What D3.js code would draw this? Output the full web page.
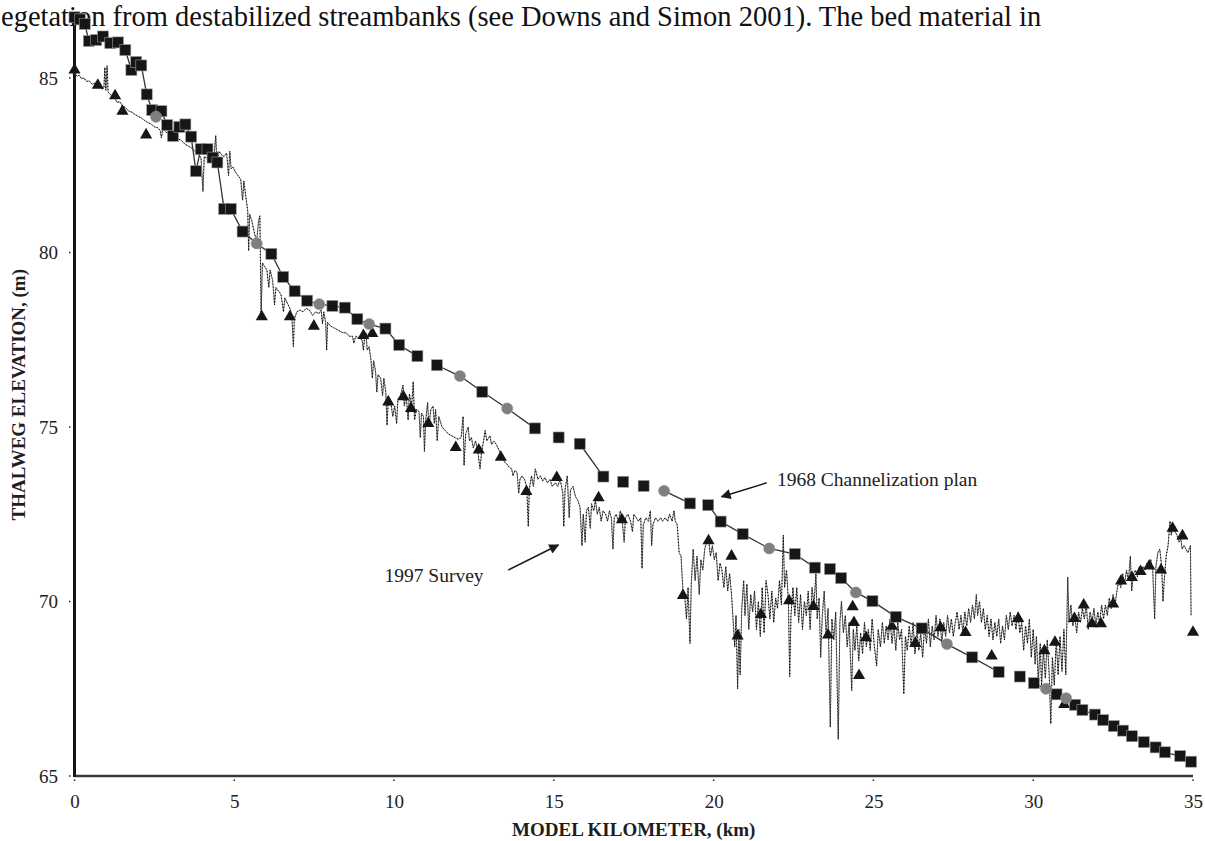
<!DOCTYPE html>
<html>
<head>
<meta charset="utf-8">
<script src="https://cdn.jsdelivr.net/npm/d3@7"></script>
<style>
  html, body { margin: 0; padding: 0; background: #fff; }
  svg { display: block; font-family: "Liberation Serif", "Times New Roman", serif; }
  .tick-label text { font-size: 19px; fill: #222; }
  .axis-title { font-size: 19px; font-weight: bold; fill: #1e1e1e; }
  .note { font-size: 19.5px; fill: #222; }
  .page-text { font-size: 28.5px; fill: #111; }
</style>
</head>
<body>
<svg id="chart" width="1205" height="841"></svg>
<script>
const X_TICKS = [0, 5, 10, 15, 20, 25, 30, 35];
const Y_TICKS = [65, 70, 75, 80, 85];

// 1968 channelization plan, black squares (km, m)
const planKm = [0.00, 0.17, 0.32, 0.45, 0.68, 0.89, 1.12, 1.36, 1.59, 1.78, 1.93, 2.09, 2.26, 2.43, 2.72, 2.90,
  3.08, 3.28, 3.47, 3.65, 3.80, 3.95, 4.16, 4.32, 4.47, 4.68, 4.89, 5.26, 6.16, 6.53, 6.89, 7.28, 8.07, 8.46,
  8.85, 9.73, 10.16, 10.73, 11.34, 12.76, 14.41, 15.15, 15.81, 16.55, 17.17, 17.81, 19.26, 19.83, 20.22, 20.91,
  22.54, 23.17, 23.64, 23.99, 24.97, 25.70, 26.51, 28.09, 28.92, 29.58, 30.02, 30.73, 31.31, 31.54, 31.93, 32.19,
  32.52, 32.81, 33.09, 33.46, 33.83, 34.12, 34.60, 34.94];
const planElev = [86.74, 86.68, 86.55, 86.06, 86.09, 86.19, 86.00, 86.02, 85.80, 85.23, 85.46, 85.36, 84.53, 84.08, 84.05, 83.65,
  83.34, 83.60, 83.67, 83.32, 82.33, 82.96, 82.96, 82.72, 82.58, 81.25, 81.25, 80.60, 79.96, 79.30, 78.89, 78.62, 78.47, 78.42,
  78.09, 77.82, 77.35, 77.03, 76.77, 76.01, 74.96, 74.70, 74.52, 73.58, 73.43, 73.31, 72.81, 72.76, 72.29, 71.93,
  71.36, 70.97, 70.93, 70.67, 70.01, 69.56, 69.23, 68.40, 67.98, 67.85, 67.66, 67.34, 67.04, 66.89, 66.76, 66.60,
  66.43, 66.30, 66.14, 65.97, 65.82, 65.68, 65.57, 65.41];

// grey markers sitting on the plan line
const markerKm = [2.55, 5.70, 7.66, 9.22, 12.06, 13.54, 18.45, 21.74, 24.45, 27.30, 30.40, 31.03];
const markerElev = [83.89, 80.26, 78.52, 77.95, 76.46, 75.53, 73.17, 71.52, 70.26, 68.78, 67.50, 67.23];

// plan line is not drawn after these stations
const planGapAfter = [10.73, 14.41, 15.15, 16.55, 17.17, 17.81, 19.26, 23.17, 28.92, 29.58];

// 1997 cross-section thalweg points (triangles)
const sectionKm = [0.00, 0.73, 1.27, 1.50, 2.24, 5.86, 6.74, 7.49, 9.04, 9.32, 9.82, 10.29, 10.53, 11.07, 11.93, 12.65,
  13.34, 14.14, 15.09, 16.40, 17.13, 19.04, 19.84, 20.56, 20.75, 21.48, 22.36, 23.12, 23.58, 24.35, 24.39, 24.55,
  24.77, 25.58, 26.31, 27.10, 27.88, 28.70, 29.53, 30.35, 30.68, 30.97, 31.29, 31.58, 31.84, 32.12, 32.50, 32.75,
  33.09, 33.36, 33.63, 34.00, 34.36, 34.67, 35.00];
const sectionElev = [85.23, 84.79, 84.49, 84.05, 83.37, 78.16, 78.16, 77.89, 77.62, 77.68, 75.72, 75.87, 75.53, 75.10, 74.41, 74.34,
  74.13, 73.15, 73.55, 72.97, 72.34, 70.17, 71.74, 71.30, 69.01, 69.63, 70.02, 69.86, 69.04, 69.85, 69.40, 67.88,
  68.96, 69.29, 68.80, 69.25, 69.11, 68.44, 69.51, 68.59, 68.83, 67.05, 69.51, 69.90, 69.36, 69.36, 69.93, 70.59,
  70.69, 70.86, 71.02, 70.90, 72.10, 71.88, 69.12];

// 1997 survey profile [km, m]
const survey1997 = [
  [0.00,85.15],[0.08,85.05],[0.15,85.08],[0.22,84.98],[0.30,85.00],[0.38,84.90],[0.46,84.92],[0.55,84.82],
  [0.62,84.85],[0.70,84.75],[0.78,84.78],[0.86,84.68],[0.92,84.72],[0.95,85.30],[0.98,84.65],[1.02,85.35],
  [1.05,84.60],[1.15,84.50],[1.25,84.45],[1.33,84.30],[1.42,84.32],[1.50,84.20],[1.60,84.15],[1.70,84.05],
  [1.80,84.02],[1.90,83.95],[2.00,83.90],[2.10,83.85],[2.20,83.78],[2.30,83.72],[2.40,83.68],[2.50,83.60],
  [2.60,83.58],[2.68,83.50],[2.72,83.28],[2.76,83.55],[2.86,83.45],[2.96,83.40],[3.06,83.38],[3.16,83.30],
  [3.26,83.25],[3.36,83.20],[3.46,83.10],[3.56,83.05],[3.66,83.00],[3.76,82.90],[3.86,82.85],[3.96,82.70],
  [4.02,81.75],[4.06,82.75],[4.15,82.70],[4.25,82.65],[4.35,82.60],[4.42,83.35],[4.46,82.45],[4.52,82.90],
  [4.60,82.80],[4.68,82.75],[4.76,82.85],[4.82,82.20],[4.86,82.90],[4.90,82.40],[4.96,82.45],[5.04,82.30],
  [5.12,82.20],[5.20,82.10],[5.26,81.50],[5.30,82.05],[5.36,81.60],[5.42,81.20],[5.45,80.05],[5.48,81.10],
  [5.55,80.90],[5.62,80.60],[5.70,80.30],[5.76,80.90],[5.80,81.05],[5.84,78.20],[5.88,79.70],[5.95,79.60],
  [6.02,79.50],[6.08,79.00],[6.12,79.50],[6.20,79.20],[6.26,78.50],[6.30,79.00],[6.38,78.90],[6.46,78.80],
  [6.54,78.30],[6.58,78.70],[6.66,78.55],[6.74,78.40],[6.80,78.20],[6.85,77.30],[6.88,78.10],[6.96,78.30],
  [7.05,78.35],[7.15,78.30],[7.25,78.40],[7.35,78.35],[7.45,78.20],[7.55,78.30],[7.65,78.25],[7.72,78.35],
  [7.76,77.95],[7.80,78.30],[7.86,78.00],[7.89,77.20],[7.92,78.00],[8.00,77.90],[8.10,77.85],[8.20,77.80],
  [8.30,77.75],[8.40,77.70],[8.50,77.70],[8.60,77.60],[8.70,77.60],[8.74,77.40],[8.80,77.60],[8.90,77.55],
  [9.00,77.50],[9.04,77.20],[9.08,77.60],[9.12,77.70],[9.16,77.20],[9.22,77.30],[9.28,76.90],[9.32,76.40],
  [9.36,76.90],[9.42,76.60],[9.46,76.00],[9.50,76.50],[9.58,76.40],[9.64,75.90],[9.68,76.40],[9.74,76.00],
  [9.78,75.05],[9.82,75.80],[9.90,75.70],[9.96,75.30],[10.02,75.60],[10.08,75.10],[10.12,75.80],[10.20,75.90],
  [10.28,76.20],[10.32,75.60],[10.38,75.90],[10.44,75.20],[10.48,75.95],[10.55,75.60],[10.60,76.30],[10.64,75.20],
  [10.70,75.50],[10.78,75.45],[10.82,74.70],[10.86,75.40],[10.92,75.30],[10.95,74.30],[10.99,75.20],[11.05,75.70],
  [11.09,75.00],[11.15,75.50],[11.22,75.60],[11.26,75.10],[11.30,75.50],[11.35,74.60],[11.40,75.30],[11.50,75.00],
  [11.60,74.90],[11.70,74.80],[11.80,74.75],[11.90,74.70],[12.00,74.65],[12.10,74.70],[12.16,75.30],[12.19,73.90],
  [12.24,74.80],[12.32,75.00],[12.36,74.60],[12.42,74.70],[12.48,74.40],[12.55,74.60],[12.62,74.30],[12.69,73.80],
  [12.74,74.30],[12.80,74.60],[12.85,74.90],[12.90,74.60],[13.00,74.75],[13.05,74.50],[13.12,74.60],[13.20,74.50],
  [13.30,74.30],[13.38,74.20],[13.45,74.00],[13.52,73.95],[13.60,73.85],[13.68,73.80],[13.72,73.60],[13.78,73.75],
  [13.85,73.70],[13.90,73.10],[13.94,73.50],[14.00,73.60],[14.08,73.50],[14.15,73.30],[14.20,72.15],[14.23,73.20],
  [14.30,73.60],[14.36,73.30],[14.42,73.80],[14.50,73.50],[14.58,73.60],[14.65,73.45],[14.72,73.55],[14.80,73.40],
  [14.88,73.50],[14.95,73.30],[15.05,73.40],[15.12,73.30],[15.20,73.50],[15.28,73.10],[15.31,72.15],[15.35,73.20],
  [15.42,73.60],[15.48,72.40],[15.52,73.20],[15.60,73.30],[15.68,73.00],[15.75,72.90],[15.82,72.70],[15.88,71.60],
  [15.92,72.50],[15.98,71.70],[16.02,72.60],[16.08,72.70],[16.14,72.10],[16.18,72.80],[16.25,72.60],[16.30,72.90],
  [16.36,72.50],[16.42,72.70],[16.48,72.30],[16.54,72.60],[16.62,72.50],[16.68,72.30],[16.74,72.60],[16.80,72.40],
  [16.85,71.50],[16.89,72.40],[16.95,72.50],[17.02,72.30],[17.08,72.60],[17.14,72.30],[17.20,71.70],[17.24,72.40],
  [17.32,72.50],[17.40,72.30],[17.46,72.00],[17.50,72.50],[17.58,72.40],[17.65,72.30],[17.72,72.40],[17.76,70.95],
  [17.80,72.20],[17.88,72.40],[17.96,72.30],[18.02,72.60],[18.06,71.60],[18.10,72.20],[18.18,72.40],[18.26,72.30],
  [18.34,72.40],[18.40,72.30],[18.48,72.40],[18.56,72.30],[18.62,72.50],[18.70,72.30],[18.76,72.60],[18.80,72.30],
  [18.86,72.20],[18.92,71.40],[18.98,71.30],[19.04,70.30],[19.10,70.10],[19.15,69.50],[19.20,70.40],[19.26,68.80],
  [19.30,70.50],[19.36,71.50],[19.42,70.60],[19.48,71.30],[19.55,70.20],[19.60,71.20],[19.66,70.90],[19.72,71.50],
  [19.78,71.70],[19.84,71.80],[19.90,71.30],[19.96,71.60],[20.02,71.20],[20.08,71.40],[20.14,70.60],[20.20,71.10],
  [20.26,70.90],[20.32,70.40],[20.38,71.00],[20.44,70.30],[20.50,70.80],[20.56,70.20],[20.62,69.30],[20.66,68.70],
  [20.70,69.60],[20.75,67.50],[20.79,69.20],[20.83,67.90],[20.88,69.80],[20.94,70.60],[20.98,69.60],[21.04,70.50],
  [21.10,69.20],[21.16,70.20],[21.22,69.70],[21.28,70.30],[21.34,69.20],[21.40,70.00],[21.46,69.00],[21.52,70.40],
  [21.58,69.10],[21.64,70.60],[21.70,70.20],[21.76,69.50],[21.82,70.30],[21.88,69.40],[21.94,70.10],[22.00,69.80],
  [22.06,70.60],[22.12,69.90],[22.18,71.90],[22.22,70.40],[22.28,70.90],[22.34,70.00],[22.38,67.85],[22.42,69.60],
  [22.48,70.40],[22.54,69.60],[22.60,70.40],[22.66,69.40],[22.72,70.20],[22.78,69.20],[22.84,70.00],[22.90,69.60],
  [22.96,70.30],[23.02,69.20],[23.08,70.40],[23.14,69.90],[23.20,70.80],[23.24,69.50],[23.30,70.10],[23.35,68.40],
  [23.40,69.60],[23.46,70.30],[23.52,69.00],[23.58,69.80],[23.65,66.40],[23.70,69.50],[23.76,68.90],[23.82,69.70],
  [23.90,66.05],[23.95,69.40],[24.00,70.00],[24.06,69.10],[24.12,69.60],[24.18,68.70],[24.24,69.40],[24.32,67.45],
  [24.37,69.20],[24.42,68.60],[24.48,69.30],[24.54,68.30],[24.60,69.10],[24.66,68.50],[24.72,69.40],[24.78,68.70],
  [24.84,69.20],[24.90,68.60],[24.96,69.50],[25.02,68.80],[25.10,68.15],[25.15,69.20],[25.22,68.70],[25.28,69.40],
  [25.34,68.80],[25.40,69.30],[25.46,68.90],[25.52,69.50],[25.58,68.80],[25.64,69.30],[25.70,68.60],[25.76,69.40],
  [25.82,68.90],[25.88,69.20],[25.95,67.35],[26.00,69.00],[26.06,68.60],[26.12,69.30],[26.18,68.70],[26.24,69.40],
  [26.30,68.50],[26.36,69.20],[26.42,68.60],[26.48,69.10],[26.54,68.40],[26.60,69.30],[26.66,68.80],[26.72,69.50],
  [26.78,68.70],[26.84,69.30],[26.90,68.90],[26.96,69.60],[27.02,69.00],[27.08,69.50],[27.14,68.80],[27.20,69.40],
  [27.26,69.00],[27.32,69.60],[27.38,69.10],[27.44,69.50],[27.50,69.00],[27.56,69.40],[27.62,69.70],[27.68,69.20],
  [27.74,69.60],[27.80,69.10],[27.86,69.70],[27.92,69.30],[27.98,69.80],[28.04,69.40],[28.10,69.90],[28.16,69.50],
  [28.22,70.20],[28.26,69.60],[28.32,70.00],[28.38,69.40],[28.44,69.80],[28.50,69.20],[28.56,69.60],[28.62,69.00],
  [28.68,69.50],[28.74,68.90],[28.80,69.40],[28.86,69.00],[28.92,69.50],[28.98,68.80],[29.04,69.30],[29.10,68.90],
  [29.16,69.60],[29.22,69.20],[29.28,69.70],[29.34,69.30],[29.40,69.60],[29.46,69.20],[29.52,69.70],[29.58,69.10],
  [29.64,69.40],[29.70,68.60],[29.76,69.30],[29.82,68.80],[29.88,69.50],[29.94,68.40],[30.00,69.20],[30.06,68.20],
  [30.10,69.00],[30.16,67.70],[30.22,68.80],[30.26,67.60],[30.32,68.60],[30.38,67.80],[30.44,68.90],[30.50,67.90],
  [30.55,66.50],[30.60,68.40],[30.66,67.60],[30.72,68.90],[30.78,67.90],[30.84,69.00],[30.90,68.00],[30.96,69.20],
  [31.02,67.90],[31.08,70.70],[31.12,69.40],[31.18,69.90],[31.24,69.30],[31.30,69.60],[31.36,69.10],[31.42,69.70],
  [31.48,69.40],[31.54,69.80],[31.60,69.50],[31.66,69.90],[31.72,69.20],[31.78,69.70],[31.84,69.40],[31.90,69.80],
  [31.96,69.30],[32.02,69.70],[32.08,69.40],[32.14,69.90],[32.20,69.50],[32.26,69.90],[32.32,69.60],[32.38,70.10],
  [32.44,69.80],[32.50,70.20],[32.56,69.90],[32.62,70.30],[32.68,70.60],[32.74,70.40],[32.80,70.80],[32.86,70.50],
  [32.92,70.90],[32.98,70.60],[33.04,71.30],[33.08,70.30],[33.14,70.80],[33.20,70.90],[33.26,70.70],[33.32,71.00],
  [33.38,70.80],[33.44,71.00],[33.50,70.90],[33.56,71.10],[33.62,71.00],[33.68,71.20],[33.74,70.90],[33.80,69.50],
  [33.84,71.00],[33.90,71.40],[33.96,71.50],[34.02,71.00],[34.06,70.00],[34.10,70.60],[34.16,71.30],[34.22,71.60],
  [34.28,72.30],[34.32,71.90],[34.38,72.20],[34.44,72.00],[34.50,71.90],[34.56,71.70],[34.62,71.80],[34.66,71.50],
  [34.72,71.60],[34.78,71.50],[34.84,71.40],[34.88,71.50],[34.92,71.60],[34.94,69.60]
];

// annotation anchors in data units
const planNote = { text: "1968 Channelization plan", km: 21.98, elev: 73.31, tail: [21.66, 73.40], tip: [20.25, 73.00] };
const surveyNote = { text: "1997 Survey", km: 9.70, elev: 70.55, tail: [13.57, 70.90], tip: [15.14, 71.62] };

const svg = d3.select("#chart");
const x = d3.scaleLinear().domain([0, 35]).range([74.5, 1193]);
const y = d3.scaleLinear().domain([65, 85]).range([776, 78]);
const yTop = 86.85;

svg.append("defs").append("marker")
  .attr("id", "arrow").attr("viewBox", "0 0 10 10")
  .attr("refX", 9).attr("refY", 5)
  .attr("markerWidth", 14).attr("markerHeight", 10)
  .attr("markerUnits", "userSpaceOnUse")
  .attr("orient", "auto")
  .append("path").attr("d", "M0,0 L10,5 L0,10 Z").attr("fill", "#1a1a1a");

// cut-off line of the surrounding page
svg.append("text").attr("class", "page-text")
  .attr("x", 1).attr("y", 25.5)
  .text("egetation from destabilized streambanks (see Downs and Simon 2001). The bed material in");

// axes lines
svg.append("line")
  .attr("x1", x(0)).attr("x2", x(35)).attr("y1", y(65)).attr("y2", y(65))
  .attr("stroke", "#3a3a3a").attr("stroke-width", 2.5);
svg.append("line")
  .attr("x1", x(0)).attr("x2", x(0)).attr("y1", y(65) + 1).attr("y2", y(yTop))
  .attr("stroke", "#151515").attr("stroke-width", 3);

// tick dots
svg.append("g").selectAll("rect").data(X_TICKS).join("rect")
  .attr("x", d => x(d) - 0.75).attr("y", y(65) + 3.5).attr("width", 1.5).attr("height", 1.5).attr("fill", "#222");
svg.append("g").selectAll("rect").data(Y_TICKS).join("rect")
  .attr("x", x(0) - 5.5).attr("y", d => y(d) - 0.75).attr("width", 1.5).attr("height", 1.5).attr("fill", "#222");

// tick labels
const xAxis = svg.append("g").attr("class", "tick-label")
  .attr("transform", `translate(0,${y(65)})`)
  .call(d3.axisBottom(x).tickValues(X_TICKS).tickSize(0).tickPadding(19).tickFormat(d3.format("d")));
const yAxis = svg.append("g").attr("class", "tick-label")
  .attr("transform", `translate(${x(0)},0)`)
  .call(d3.axisLeft(y).tickValues(Y_TICKS).tickSize(0).tickPadding(16.5).tickFormat(d3.format("d")));
[xAxis, yAxis].forEach(g => {
  g.select(".domain").remove();
  g.attr("font-family", null).attr("font-size", null);
});

// axis titles
svg.append("text").attr("class", "axis-title")
  .attr("x", (x(0) + x(35)) / 2).attr("y", 836).attr("text-anchor", "middle")
  .text("MODEL KILOMETER, (km)");
svg.append("text").attr("class", "axis-title")
  .attr("transform", `translate(25,${(y(65) + y(yTop)) / 2}) rotate(-90)`)
  .attr("text-anchor", "middle")
  .text("THALWEG ELEVATION, (m)");

// survey profile: faint hairline with a dotted overlay, as in the scan
const surveyLine = d3.line().x(d => x(d[0])).y(d => y(d[1]));
svg.append("path")
  .datum(survey1997)
  .attr("fill", "none")
  .attr("stroke", "#5a5a5a")
  .attr("stroke-width", 0.8)
  .attr("d", surveyLine);
svg.append("path")
  .datum(survey1997)
  .attr("fill", "none")
  .attr("stroke", "#000")
  .attr("stroke-width", 1)
  .attr("stroke-dasharray", "1,2")
  .attr("d", surveyLine);

// plan line, in segments
const planPoints = planKm.map((k, i) => ({ km: k, elev: planElev[i], grey: false }))
  .concat(markerKm.map((k, i) => ({ km: k, elev: markerElev[i], grey: true })))
  .sort((a, b) => a.km - b.km);
const segments = [];
let current = [];
planPoints.forEach(p => {
  current.push(p);
  if (planGapAfter.includes(p.km)) {
    segments.push(current);
    current = [];
  }
});
if (current.length) segments.push(current);

svg.append("g").selectAll("path").data(segments).join("path")
  .attr("fill", "none").attr("stroke", "#333").attr("stroke-width", 1.3)
  .attr("d", d3.line().x(d => x(d.km)).y(d => y(d.elev)));

// triangles
svg.append("g").selectAll("path").data(sectionKm).join("path")
  .attr("transform", (d, i) => `translate(${x(d)},${y(sectionElev[i])})`)
  .attr("d", d3.symbol(d3.symbolTriangle, 64))
  .attr("fill", "#161616");

// squares
const sq = 11;
svg.append("g").selectAll("rect").data(planPoints.filter(p => !p.grey)).join("rect")
  .attr("x", d => x(d.km) - sq / 2).attr("y", d => y(d.elev) - sq / 2)
  .attr("width", sq).attr("height", sq)
  .attr("fill", "#161616").attr("stroke", "#9a9a9a").attr("stroke-width", 0.6);

// grey markers
svg.append("g").selectAll("path").data(planPoints.filter(p => p.grey)).join("path")
  .attr("transform", d => `translate(${x(d.km)},${y(d.elev)})`)
  .attr("d", d3.symbol(d3.symbolCircle, 100))
  .attr("fill", "#7f7f7f").attr("stroke", "#a0a0a0").attr("stroke-width", 0.8)
  .attr("stroke-dasharray", "1.5,1");

// annotations
[planNote, surveyNote].forEach(n => {
  svg.append("line")
    .attr("x1", x(n.tail[0])).attr("y1", y(n.tail[1]))
    .attr("x2", x(n.tip[0])).attr("y2", y(n.tip[1]))
    .attr("stroke", "#1a1a1a").attr("stroke-width", 1.5)
    .attr("marker-end", "url(#arrow)");
  svg.append("text").attr("class", "note")
    .attr("x", x(n.km)).attr("y", y(n.elev))
    .text(n.text);
});
</script>
</body>
</html>
